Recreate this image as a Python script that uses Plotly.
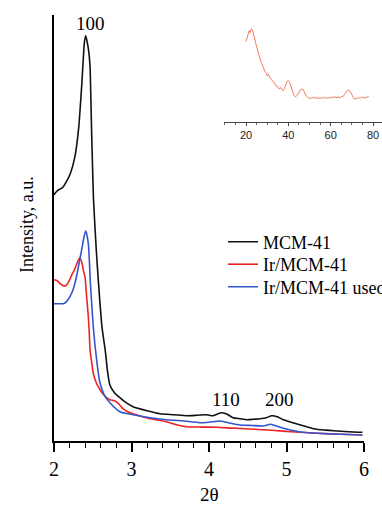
import plotly.graph_objects as go

# ---------------- data (main panel, intensity in arbitrary units) ----------------
mcm_x = [2.00, 2.03, 2.06, 2.09, 2.12, 2.16, 2.21, 2.27, 2.32, 2.34, 2.36, 2.38, 2.395, 2.41,
         2.43, 2.45, 2.465, 2.475, 2.486, 2.497, 2.51, 2.55, 2.59, 2.62, 2.66, 2.69, 2.72,
         2.78, 2.85, 2.93, 3.02, 3.2, 3.37, 3.55, 3.71, 3.85, 3.97, 4.05, 4.10, 4.16, 4.22,
         4.31, 4.40, 4.49, 4.58, 4.66, 4.74, 4.81, 4.88, 4.96, 5.06, 5.17, 5.28, 5.39, 5.50,
         5.61, 5.80, 5.98]
mcm_y = [246, 249, 251, 252, 254, 259, 267, 284, 314, 335, 358, 385, 400, 405,
         398, 388, 374, 345, 307, 275, 241, 185, 141, 113, 91, 70, 56,
         48, 43, 38, 34, 30, 27, 26, 25, 25.5, 26, 25, 26.5, 28, 27,
         23, 22, 21, 21.5, 22, 23, 25, 24, 21, 18.5, 16, 13.5, 11.4, 10.6,
         10, 9, 8.4]

ir_x = [2.00, 2.04, 2.08, 2.12, 2.15, 2.19, 2.23, 2.27, 2.31, 2.335, 2.36, 2.38, 2.40, 2.42,
        2.443, 2.455, 2.465, 2.49, 2.507, 2.54, 2.57, 2.64, 2.72, 2.78, 2.83, 2.89, 2.95,
        3.02, 3.12, 3.24, 3.35, 3.45, 3.58, 3.71, 3.90, 4.10, 4.30, 4.53, 4.75, 4.95, 5.17,
        5.40, 5.61, 5.80, 5.98]
ir_y = [161, 160, 157, 155, 155, 159, 166, 172, 180, 183, 178, 170, 164, 145,
        124, 108, 91, 76, 67.4, 59, 54, 46, 41, 40, 37.4, 32, 29,
        27, 24.5, 22, 20.5, 19, 16, 14, 13.6, 13.4, 12.6, 11.7, 10.7, 9.6, 8.4,
        7.5, 6.7, 6.2, 5.7]

used_x = [2.00, 2.06, 2.12, 2.16, 2.206, 2.25, 2.29, 2.33, 2.357, 2.385, 2.41, 2.443, 2.47,
          2.507, 2.55, 2.59, 2.66, 2.745, 2.85, 3.02, 3.2, 3.45, 3.65, 3.88, 4.0, 4.14,
          4.25, 4.4, 4.55, 4.70, 4.79, 4.86, 4.96, 5.17, 5.39, 5.61, 5.80, 5.98]
used_y = [137, 137, 137, 139, 144, 152, 164, 180, 191, 203, 210, 197, 157,
          114, 81, 59, 44, 36, 29, 26, 23.5, 21, 20, 18, 18.5, 19.7,
          18, 15.7, 15.2, 14.7, 16.4, 15, 12.4, 9, 7.4, 6.7, 6.2, 5.7]

series_names = ["MCM-41", "Ir/MCM-41", "Ir/MCM-41 used"]
series_colors = ["#111111", "#ee2222", "#3355cc"]

# ---------------- data (inset, wide-angle pattern) ----------------
inset_x = [20, 20.5, 21, 21.5, 22, 22.5, 23, 23.5, 24, 24.5, 25, 25.5, 26, 26.5, 27, 27.5,
           28, 28.5, 29, 29.5, 30, 30.5, 31, 31.5, 32, 32.5, 33, 33.5, 34, 34.5, 35, 35.5,
           36, 36.5, 37, 37.5, 38, 38.5, 39, 39.5, 40, 40.5, 41, 41.5, 42, 42.5, 43, 43.5,
           44, 44.5, 45, 45.5, 46, 46.5, 47, 47.5, 48, 48.5, 49, 49.5, 50, 50.5, 51, 51.5,
           52, 52.5, 53, 53.5, 54, 54.5, 55, 55.5, 56, 56.5, 57, 57.5, 58, 58.5, 59, 59.5,
           60, 60.5, 61, 61.5, 62, 62.5, 63, 63.5, 64, 64.5, 65, 65.5, 66, 66.5, 67, 67.5,
           68, 68.5, 69, 69.5, 70, 70.5, 71, 71.5, 72, 72.5, 73, 73.5, 74, 74.5, 75, 75.5,
           76, 76.5, 77, 77.5, 78]
inset_y = [80, 84, 88, 91, 89, 93, 92, 89, 84, 79, 75, 73, 68, 64, 60, 58,
           55, 53, 50, 49, 46, 47.5, 45, 43.5, 42, 41, 39, 38.5, 36, 35.5, 35, 33,
           33.5, 34, 32, 31, 32.5, 35, 38.5, 40.5, 41, 40, 37, 33, 29, 27, 25.5, 25,
           26, 27.5, 30, 31.5, 32.5, 32.5, 32, 30, 27.5, 25.5, 24.5, 24, 24, 23.2, 23.8, 24.6,
           23.4, 24.2, 23.5, 24.4, 23, 23.8, 24, 23.2, 23.6, 24.4, 23.5, 24.2, 24, 23.4, 23.8, 24.6,
           24.5, 23.8, 24, 24.8, 25, 24.2, 24, 24.9, 24.5, 24, 25, 25.4, 25.5, 27, 29, 30.5,
           31.5, 31.8, 31, 29.5, 27, 24.5, 23, 22.6, 23.5, 23.2, 24, 23.6, 23.5, 24.4, 24.5, 23.8,
           24, 24.6, 24.5, 25.2, 25]

W, H = 382, 505
serif = "Liberation Serif, Times New Roman, serif"

fig = go.Figure()
legend_ids = ["legend", "legend2", "legend3"]
legend_rows = [242, 264.5, 287]
for xs, ys, nm, col, lg in [(mcm_x, mcm_y, series_names[0], series_colors[0], legend_ids[0]),
                            (ir_x, ir_y, series_names[1], series_colors[1], legend_ids[1]),
                            (used_x, used_y, series_names[2], series_colors[2], legend_ids[2])]:
    fig.add_trace(go.Scatter(x=xs, y=ys, mode="lines", name=nm, legend=lg,
                             line=dict(color=col, width=1.6, shape="spline", smoothing=0.6),
                             xaxis="x", yaxis="y"))

fig.add_trace(go.Scatter(x=inset_x, y=inset_y, mode="lines", showlegend=False,
                         line=dict(color="#f07a5c", width=1), xaxis="x2", yaxis="y2"))

legend_common = dict(x=223 / W, xanchor="left", yanchor="middle",
                     font=dict(family=serif, size=18, color="black"),
                     bgcolor="rgba(0,0,0,0)", borderwidth=0, itemwidth=30)

fig.update_layout(
    width=W, height=H,
    margin=dict(l=0, r=0, t=0, b=0, autoexpand=False),
    paper_bgcolor="white", plot_bgcolor="rgba(0,0,0,0)",
    font=dict(family=serif, color="black"),
    showlegend=True,
    legend=dict(y=1 - legend_rows[0] / H, **legend_common),
    legend2=dict(y=1 - legend_rows[1] / H, **legend_common),
    legend3=dict(y=1 - legend_rows[2] / H, **legend_common),
    xaxis=dict(domain=[54 / W, 364 / W], range=[2, 6], showline=True, linecolor="black",
               linewidth=1.8, showgrid=False, zeroline=False, ticks="outside", ticklen=9,
               tickwidth=1.5, tickcolor="black", tickvals=[2, 3, 4, 5, 6],
               tickfont=dict(family=serif, size=20, color="black"),
               minor=dict(ticks="outside", ticklen=5, tickwidth=1.2, tickcolor="black",
                          dtick=0.2, showgrid=False),
               anchor="y"),
    yaxis=dict(domain=[1 - 440.7 / H, 1 - 15 / H], range=[0, 425.7], showline=True,
               linecolor="black", linewidth=1.8, showgrid=False, zeroline=False,
               showticklabels=False, ticks="", anchor="x"),
    xaxis2=dict(domain=[224 / W, 1.0], range=[9.6, 84.25], showline=True, linecolor="#444444",
                linewidth=1, showgrid=False, zeroline=False, ticks="outside", ticklen=3,
                tickwidth=1, tickcolor="#444444", tickvals=[20, 40, 60, 80],
                tickfont=dict(family="Liberation Sans, Arial, sans-serif", size=11, color="#222222"),
                minor=dict(ticks="outside", ticklen=2, tickwidth=1, tickcolor="#666666",
                           dtick=5, tick0=0, showgrid=False),
                anchor="y2"),
    yaxis2=dict(domain=[1 - 121.7 / H, 1 - 20 / H], range=[0, 101.7], visible=False,
                anchor="x2"),
)

fig.add_annotation(x=2.465, y=417.7, xref="x", yref="y", text="100", showarrow=False,
                   xanchor="center", yanchor="middle",
                   font=dict(family=serif, size=19, color="black"))
fig.add_annotation(x=4.215, y=41.7, xref="x", yref="y", text="110", showarrow=False,
                   xanchor="center", yanchor="middle",
                   font=dict(family=serif, size=19, color="black"))
fig.add_annotation(x=4.91, y=41.7, xref="x", yref="y", text="200", showarrow=False,
                   xanchor="center", yanchor="middle",
                   font=dict(family=serif, size=19, color="black"))
fig.add_annotation(x=27 / W, y=1 - 225 / H, xref="paper", yref="paper", text="Intensity, a.u.",
                   textangle=-90, showarrow=False, xanchor="center", yanchor="middle",
                   font=dict(family=serif, size=18, color="black"))
fig.add_annotation(x=209 / W, y=1 - 494 / H, xref="paper", yref="paper", text="2θ",
                   showarrow=False, xanchor="center", yanchor="middle",
                   font=dict(family=serif, size=19, color="black"))

fig.write_html("out.html", config={"displayModeBar": False},
               post_script="document.body.style.margin='0';document.body.style.overflow='hidden';")
